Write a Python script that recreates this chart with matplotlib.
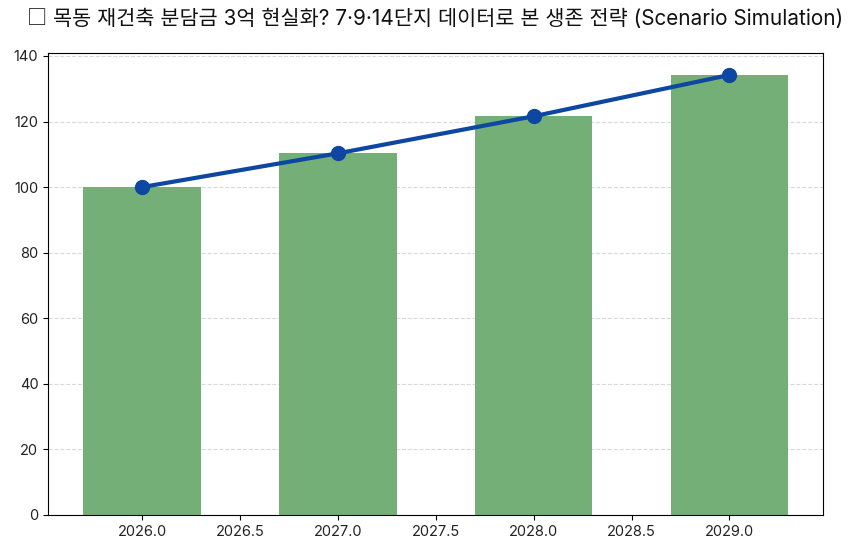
import matplotlib
matplotlib.use('Agg')
import matplotlib.pyplot as plt

plt.rcParams['font.family'] = ['Inter', 'Noto Sans CJK KR', 'DejaVu Sans']

# values
years = [2026, 2027, 2028, 2029]
values = [100, 110.3, 121.6, 134.2]

title = '목동 재건축 분담금 3억 현실화? 7·9·14단지 데이터로 본 생존 전략 (Scenario Simulation)'

fig = plt.figure(figsize=(8.53, 5.49), dpi=100)
ax = fig.add_axes([48 / 853, 1 - 515 / 549, 775 / 853, 462 / 549])

# bars and trend line
ax.bar(years, values, width=0.6, color='#74AF78', zorder=2)
ax.plot(years, values, color='#0D47A1', linewidth=3, marker='o', markersize=10, zorder=3)

ax.set_xlim(2025.52, 2029.478)
ax.set_ylim(0, 140.9)
ax.set_xticks([2026.0, 2026.5, 2027.0, 2027.5, 2028.0, 2028.5, 2029.0])
ax.set_yticks([0, 20, 40, 60, 80, 100, 120, 140])
ax.tick_params(labelsize=10.5, labelcolor='#222222')
ax.grid(True, axis='y', linestyle='--', color='#d9d9d9', linewidth=0.8, zorder=1)

# box glyph is lighter in the CJK font, so it goes in its own text
fig.text(37 / 853, 1 - 19 / 549, '□', fontsize=14.5, ha='center', va='center', color='#111111',
         family=['Noto Sans CJK KR', 'DejaVu Sans'])
fig.text(448 / 853, 1 - 19 / 549, title, fontsize=14.95, ha='center', va='center', color='#111111')

fig.savefig('out.png', dpi=100)
